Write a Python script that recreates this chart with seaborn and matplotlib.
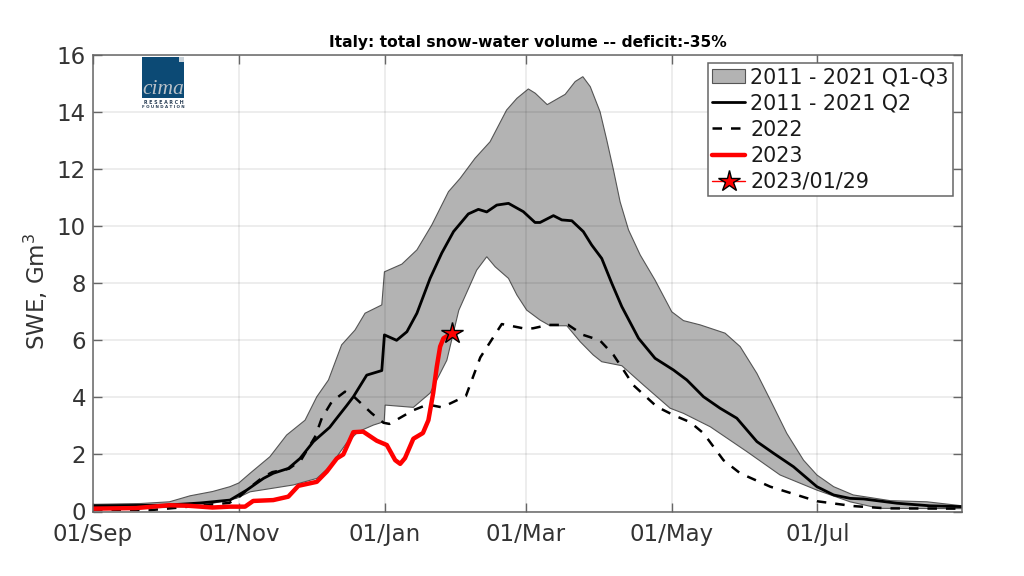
import matplotlib
matplotlib.use('Agg')
import matplotlib.pyplot as plt
from matplotlib.patches import Rectangle
import seaborn as sns

# days since 01/Sep
tick_days = [0, 61, 122, 181, 242, 303]
tick_labels = ['01/Sep', '01/Nov', '01/Jan', '01/Mar', '01/May', '01/Jul']

q3_days = [0, 20, 32, 40.6, 50, 57.3, 61, 65.7, 74, 81, 88.7, 93.6, 98.5, 104, 109.6, 113.8, 120.8, 121.9, 129.2, 135.5,
           141.7, 148.7, 153.6, 159.8, 166.1, 173, 177.3, 182.1, 185, 190, 195.4, 197.5, 201.7, 204.9, 208,
           212.1, 214.9, 217.7, 220.5, 224, 228.9, 235.1, 242.1, 247, 254, 264.4, 270.7, 277.7, 283.3, 290.2,
           297.2, 302.8, 309.8, 318, 333.5, 348.8, 363.5]
q3_vals = [0.25, 0.28, 0.34, 0.55, 0.7, 0.87, 1.0, 1.34, 1.92, 2.68, 3.2, 4.02, 4.61, 5.84, 6.36, 6.95, 7.24, 8.4,
           8.67, 9.17, 10.04, 11.21, 11.68, 12.38, 12.96, 14.07, 14.48, 14.81, 14.66, 14.26, 14.52, 14.62,
           15.07, 15.24, 14.89, 14.01, 13.02, 11.97, 10.85, 9.87, 8.99, 8.11, 7.0, 6.69, 6.54, 6.25, 5.78, 4.84,
           3.91, 2.74, 1.8, 1.28, 0.87, 0.58, 0.38, 0.34, 0.2]

q1_days = [0, 30, 45, 60, 65.7, 75.5, 83.8, 93.6, 99, 106, 111, 117.3, 121.8, 122.2, 134, 141, 148, 153, 160.5, 164.7,
           168.2, 173.8, 177.3, 181.4, 187, 191.2, 198.2, 203.8, 209.2, 212.8, 221.2, 230.3, 241.4, 247, 258.2, 273.5,
           287.4, 302.8, 316.7, 329, 363.5]
q1_vals = [0.12, 0.14, 0.2, 0.46, 0.69, 0.82, 0.93, 1.16, 1.57, 2.39, 2.8, 3.03, 3.15, 3.73, 3.65, 4.15, 5.3, 7.05,
           8.46, 8.93, 8.58, 8.17, 7.59, 7.06, 6.71, 6.51, 6.51, 5.95, 5.49, 5.25, 5.11, 4.43, 3.62, 3.44, 2.97, 2.1,
           1.28, 0.75, 0.34, 0.11, 0.1]

q2_days = [0, 30, 45, 57.3, 64.3, 71.3, 75.4, 81.7, 86.6, 92.2, 99, 101.3, 106, 108.9, 114.5, 120.8, 121.9, 127, 131.3,
           135.5, 141, 145.9, 150.8, 157, 161.2, 164.7, 168.9, 173.8, 180, 184.9, 187, 192.6, 196.1, 200.3,
           205.1, 208.6, 212.8, 217, 221.2, 228.2, 235.1, 242.8, 248.4, 255.4, 262.3, 269.3, 277.7, 284.7, 293,
           302.8, 309.8, 316.7, 322.3, 336.3, 350, 363.5]
q2_vals = [0.2, 0.22, 0.3, 0.4, 0.75, 1.16, 1.34, 1.51, 1.86, 2.45, 2.95, 3.2, 3.7, 4.02, 4.78, 4.94, 6.19, 6.0, 6.3,
           6.95, 8.17, 9.06, 9.81, 10.43, 10.59, 10.5, 10.74, 10.8, 10.51, 10.13, 10.13, 10.37, 10.22, 10.19,
           9.81, 9.34, 8.87, 8.0, 7.18, 6.07, 5.37, 4.96, 4.61, 4.02, 3.62, 3.27, 2.45, 2.04, 1.57, 0.87, 0.58,
           0.46, 0.44, 0.29, 0.2, 0.17]

y2022_days = [0, 24, 31, 57, 61, 65, 71, 75, 82, 87, 92.9, 95.7, 99.9, 105.4, 109.2, 116.6, 121.5, 124, 134, 140, 146,
              156, 162, 171, 180, 184, 190.5, 198.8, 205, 212, 217.7, 221.9, 226, 235.9, 242.8, 249.8, 255.4, 263.7,
              270.7, 283.3, 302.8, 318, 332, 363.5]
y2022_vals = [0.07, 0.05, 0.1, 0.3, 0.5, 0.8, 1.2, 1.38, 1.5, 1.8, 2.62, 3.27, 3.85, 4.2, 4.02, 3.44, 3.11, 3.07, 3.55,
              3.75, 3.65, 4.05, 5.4, 6.57, 6.42, 6.42, 6.54, 6.54, 6.19, 6.0, 5.49, 4.96, 4.43, 3.67, 3.38, 3.13, 2.74,
              1.8, 1.34, 0.87, 0.36, 0.19, 0.11, 0.1]

y2023_days = [0, 18, 32, 40, 50, 57.3, 63.6, 67, 75.4, 81.7, 85.9, 93.6, 97.8, 102, 104.7, 108.9, 113, 118.7, 122.9,
              126.4, 128.5, 130.5, 134, 138, 140.3, 142.3, 143.8, 145.2, 146.6, 150]
y2023_vals = [0.1, 0.12, 0.22, 0.2, 0.14, 0.17, 0.17, 0.37, 0.4, 0.52, 0.9, 1.04, 1.4, 1.86, 2.0, 2.78, 2.8, 2.48,
              2.33, 1.8, 1.67, 1.87, 2.55, 2.75, 3.2, 4.15, 5.07, 5.78, 6.07, 6.25]

star_day = [150]
star_val = [6.25]

sns.set_style('white')
plt.rcParams['mathtext.default'] = 'regular'
plt.rcParams['font.family'] = ['DejaVu Sans']
dark = '#666666'
text_col = '#333333'

fig = plt.figure(figsize=(10.24, 5.76), dpi=100)
ax = fig.add_axes([93 / 1024, 64.5 / 576, 869 / 1024, 456.5 / 576])

# Q1-Q3 band: upper edge out, lower edge back
ax.fill(q3_days + q1_days[::-1], q3_vals + q1_vals[::-1], facecolor='#b3b3b3', edgecolor='#555555', linewidth=0.8,
        label='2011 - 2021 Q1-Q3')

sns.lineplot(x=q2_days, y=q2_vals, color='black', linewidth=2.0, estimator=None, sort=False,
             label='2011 - 2021 Q2', ax=ax)
sns.lineplot(x=y2022_days, y=y2022_vals, color='black', linewidth=1.8, linestyle=(0, (3.8, 3.6)), estimator=None,
             sort=False, label='2022', ax=ax)
sns.lineplot(x=y2023_days, y=y2023_vals, color='red', linewidth=3.2, estimator=None, sort=False, label='2023', ax=ax)
sns.lineplot(x=star_day, y=star_val, color='red', linewidth=1, marker='*', markersize=16, markeredgecolor='black',
             markeredgewidth=1, estimator=None, label='2023/01/29', ax=ax)

ax.set_xlim(0, 363.5)
ax.set_ylim(0, 16)
ax.set_xticks(tick_days)
ax.set_xticklabels(tick_labels)
ax.set_yticks(range(0, 17, 2))
ax.set_axisbelow('line')
ax.grid(True, color='black', alpha=0.09, linewidth=1.1)
ax.tick_params(direction='in', length=6.5, width=1, color=dark, labelcolor=text_col, labelsize=16.5,
               top=True, right=True, bottom=True, left=True)
ax.tick_params(axis='x', pad=8.5)
ax.tick_params(axis='y', pad=5)
for side in ax.spines.values():
    side.set_color(dark)
    side.set_linewidth(1.1)
ax.set_ylabel('SWE, Gm$^3$', fontsize=16.5, color=text_col)
ax.yaxis.set_label_coords(-0.049, 0.483)
ax.set_xlabel('')
ax.set_title('Italy: total snow-water volume -- deficit:-35%', fontsize=11.2, fontweight='bold', color='black', pad=6)

leg = ax.legend(loc='upper right', bbox_to_anchor=(0.9896, 0.9825), borderaxespad=0, fontsize=14.9, frameon=True,
                fancybox=False, framealpha=1, edgecolor=dark, labelspacing=0.3, handlelength=1.62,
                handletextpad=0.24, borderpad=0.2, labelcolor='#1a1a1a')
leg.get_frame().set_linewidth(1.1)

# logo
fig.add_artist(Rectangle((142 / 1024, 1 - 98 / 576), 42 / 1024, 41 / 576, transform=fig.transFigure,
                         facecolor='#0c4a75', edgecolor='none'))
fig.add_artist(Rectangle((179 / 1024, 1 - 62 / 576), 5 / 1024, 5 / 576, transform=fig.transFigure,
                         facecolor='#c9d3da', edgecolor='none'))
fig.text(163 / 1024, 1 - 98.5 / 576, 'cima', fontsize=15.5, family='Liberation Serif', style='italic', color='#b9c1c8',
         ha='center', va='bottom')
fig.text(163.5 / 1024, 1 - 102 / 576, 'R E S E A R C H', fontsize=3.4, color='#2a3f55', ha='center', va='center',
         fontweight='bold')
fig.text(163.5 / 1024, 1 - 107 / 576, 'F O U N D A T I O N', fontsize=2.9, color='#2a3f55', ha='center', va='center',
         fontweight='bold')

fig.savefig('out.png', dpi=100)
